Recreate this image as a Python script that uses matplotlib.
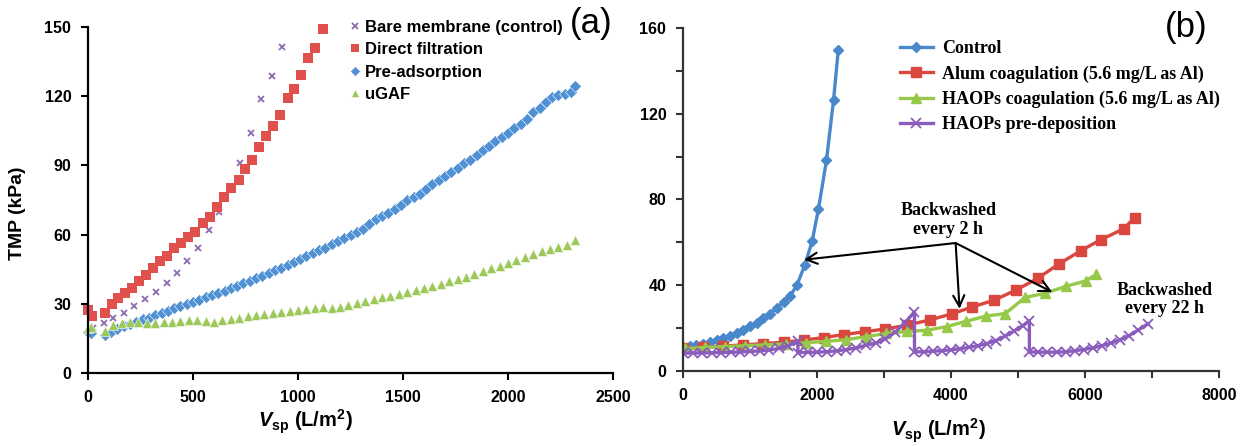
import numpy as np
import matplotlib
matplotlib.use('Agg')
from matplotlib import pyplot as plt
from matplotlib.ticker import MultipleLocator, FuncFormatter

plt.rcParams['font.family'] = ['Liberation Sans', 'DejaVu Sans']
plt.rcParams['mathtext.fontset'] = 'custom'
plt.rcParams['mathtext.it'] = 'Liberation Sans:bold:italic'
plt.rcParams['mathtext.rm'] = 'Liberation Sans:bold'
plt.rcParams['mathtext.bf'] = 'Liberation Sans:bold'

# ---------- panel (a) ----------
bare_x = [25, 78, 121, 173, 219, 271, 322, 375, 425, 473, 525, 576, 625, 675, 726, 775, 826, 877, 926]
bare_y = [19.5, 21.5, 23.7, 26.1, 29.0, 32.1, 35.0, 39.2, 43.5, 48.5, 54.0, 62.0, 69.7, 80.0, 91.2, 103.9, 118.6, 128.7, 141.4]

direct_x = [1, 17, 81, 113, 145, 176, 208, 243, 276, 311, 343, 375, 410, 441, 478, 510, 549, 581, 613,
            647, 680, 717, 749, 779, 816, 846, 883, 914, 951, 981, 1013, 1048, 1083, 1118]
direct_y = [27.3, 24.7, 25.9, 29.9, 32.4, 34.8, 36.7, 39.9, 42.5, 45.4, 48.7, 50.7, 54.0, 56.2, 59.1, 61.3, 65.2, 67.8, 71.8,
            76.5, 80.0, 83.5, 88.3, 92.3, 98.1, 102.9, 107.1, 111.8, 119.3, 123.0, 129.3, 136.4, 140.7, 149.0]

preads_x = [0, 15, 81, 110, 140, 170, 200, 230, 260, 290, 320, 350, 380, 410, 440, 470, 500, 530, 560, 590,
            620, 650, 680, 710, 740, 770, 800, 830, 860, 890, 920, 950, 980, 1010, 1040, 1070, 1100, 1130,
            1160, 1190, 1220, 1250, 1280, 1310, 1340, 1370, 1400, 1430, 1460, 1490, 1520, 1550, 1580, 1610,
            1640, 1670, 1700, 1730, 1760, 1790, 1820, 1850, 1880, 1910, 1940, 1970, 2000, 2030, 2060, 2090,
            2120, 2150, 2180, 2210, 2240, 2270, 2300, 2318]
preads_y = [17.8, 17.3, 16.3, 17.8, 19.0, 20.2, 21.3, 22.3, 23.2, 24.0, 25.2, 26.1, 27.0, 28.0, 28.9, 29.8,
            30.8, 31.8, 32.8, 33.7, 34.7, 35.6, 36.7, 37.8, 38.9, 39.9, 41.0, 42.1, 43.3, 44.5, 45.7, 47.0,
            48.3, 49.5, 50.8, 52.0, 53.2, 54.4, 55.8, 57.2, 58.5, 59.8, 61.2, 62.6, 64.5, 66.7, 68.0, 69.3,
            71.0, 73.0, 74.8, 76.2, 77.7, 79.7, 81.8, 83.6, 85.2, 87.0, 89.0, 91.2, 92.5, 94.5, 96.5, 98.6,
            100.6, 102.3, 104.2, 106.0, 107.8, 110.2, 113.0, 115.0, 117.5, 119.5, 120.5, 121.0, 122.0, 124.3]

ugaf_x = [0, 12, 81, 120, 160, 200, 240, 280, 320, 360, 400, 440, 480, 520, 560, 600, 640, 680, 720, 760,
          800, 840, 880, 920, 960, 1000, 1040, 1080, 1120, 1160, 1200, 1240, 1280, 1320, 1360, 1400, 1440,
          1480, 1520, 1560, 1600, 1640, 1680, 1720, 1760, 1800, 1840, 1880, 1920, 1960, 2000, 2040, 2080,
          2120, 2160, 2200, 2240, 2280, 2318]
ugaf_y = [19.5, 19.8, 18.3, 21.0, 21.8, 22.0, 22.0, 21.8, 21.8, 22.0, 22.2, 22.5, 22.8, 23.0, 22.5, 22.3,
          22.8, 23.4, 24.0, 24.6, 25.1, 25.5, 26.0, 26.5, 27.0, 27.4, 27.8, 28.3, 28.7, 28.0, 28.6, 29.5,
          30.5, 31.3, 32.0, 32.8, 33.5, 34.2, 35.2, 36.0, 37.0, 37.8, 38.8, 39.8, 40.8, 41.8, 43.0, 44.2,
          45.4, 46.6, 47.8, 49.0, 50.2, 51.5, 52.8, 53.8, 54.6, 55.6, 57.5]

# ---------- panel (b) ----------
control_x = [0, 100, 200, 300, 400, 500, 600, 700, 800, 900, 1000, 1100, 1200, 1300, 1400, 1500, 1600, 1700,
             1820, 1928, 2022, 2141, 2247, 2318]
control_y = [11.2, 11.6, 12.2, 12.8, 13.6, 14.5, 15.3, 16.4, 17.7, 19.2, 20.8, 22.5, 24.5, 26.8, 29.3, 32.0,
             35.0, 40.0, 49.6, 60.6, 75.6, 98.2, 126.4, 149.9]

alum_x = [0, 300, 600, 900, 1200, 1500, 1800, 2100, 2400, 2710, 3016, 3350, 3680, 4010, 4317, 4642, 4967,
          5293, 5618, 5943, 6239, 6576, 6742]
alum_y = [10.5, 11.0, 11.6, 12.2, 12.8, 13.4, 14.4, 15.6, 17.0, 18.3, 19.6, 21.4, 23.8, 26.6, 29.9, 33.0,
          37.7, 43.2, 50.1, 56.2, 61.3, 66.3, 71.6]

haops_coag_x = [30, 330, 630, 930, 1230, 1530, 1830, 2130, 2430, 2730, 3030, 3349, 3642, 3934, 4226, 4519,
                4811, 5104, 5396, 5715, 6008, 6167]
haops_coag_y = [10.5, 11.0, 11.4, 11.8, 12.2, 12.6, 13.2, 13.8, 14.6, 16.0, 17.5, 18.5, 19.0, 20.7, 23.2,
                25.6, 26.8, 34.3, 36.2, 39.5, 42.0, 45.1]

haops_dep_x = [0, 143, 286, 429, 572, 715, 858, 1001, 1144, 1287, 1430, 1573, 1715,
               1715, 1860, 2005, 2150, 2295, 2440, 2585, 2730, 2875, 3020, 3165, 3310, 3455,
               3455, 3590, 3725, 3860, 3995, 4130, 4265, 4400, 4535, 4670, 4805, 4940, 5075, 5170,
               5170, 5305, 5440, 5575, 5710, 5845, 5980, 6115, 6250, 6385, 6520, 6655, 6790, 6940]
haops_dep_y = [8.4, 8.4, 8.4, 8.5, 8.6, 8.7, 8.9, 9.1, 9.4, 9.8, 10.5, 11.8, 14.0,
               8.6, 8.7, 8.8, 9.0, 9.4, 10.0, 10.8, 12.0, 13.0, 15.0, 18.0, 22.5, 27.5,
               8.9, 9.0, 9.2, 9.5, 9.9, 10.4, 11.0, 11.8, 12.8, 14.2, 16.2, 18.6, 21.2, 23.5,
               8.9, 8.8, 8.8, 8.8, 8.9, 9.5, 10.0, 10.8, 11.8, 13.0, 14.5, 16.5, 19.0, 22.0]

W, H = 1245, 446
fig = plt.figure(figsize=(W / 100, H / 100), dpi=100)

# ---------------- (a) ----------------
ax1 = fig.add_axes([88 / W, (H - 373) / H, 525 / W, 346 / H])
ax1.plot(bare_x, bare_y, 'x', color='#8C6BB1', ms=5, mew=1.3, label='Bare membrane (control)', clip_on=False)
ax1.plot(direct_x, direct_y, 's', color='#E0514D', ms=7, mew=0, label='Direct filtration', clip_on=False)
ax1.plot(preads_x, preads_y, 'D', color='#4F91D4', ms=6, mec='white', mew=0.4, label='Pre-adsorption', clip_on=False)
ax1.plot(ugaf_x, ugaf_y, '^', color='#9DC85A', ms=7.5, mec='white', mew=0.4, label='uGAF', clip_on=False)
ax1.set_xlim(0, 2500)
ax1.set_ylim(0, 150)
ax1.xaxis.set_major_locator(MultipleLocator(500))
ax1.yaxis.set_major_locator(MultipleLocator(30))

# ---------------- (b) ----------------
ax2 = fig.add_axes([683 / W, (H - 371) / H, 536 / W, 343 / H])
ax2.plot(control_x, control_y, '-D', color='#4A88CC', lw=2.4, ms=5.5, label='Control')
ax2.plot(alum_x, alum_y, '-s', color='#D9473F', lw=2.4, ms=7, label='Alum coagulation (5.6 mg/L as Al)')
ax2.plot(haops_coag_x, haops_coag_y, '-^', color='#96C84A', lw=2.4, ms=7.5, label='HAOPs coagulation (5.6 mg/L as Al)')
ax2.plot(haops_dep_x, haops_dep_y, '-x', color='#8A5CBB', lw=2.4, ms=7, mew=1.3, label='HAOPs pre-deposition')
ax2.set_xlim(0, 8000)
ax2.set_ylim(0, 160)
ax2.xaxis.set_major_locator(MultipleLocator(1000))
ax2.yaxis.set_major_locator(MultipleLocator(20))
ax2.xaxis.set_major_formatter(FuncFormatter(lambda v, p: f'{v:.0f}' if round(v) % 2000 == 0 else ''))
ax2.yaxis.set_major_formatter(FuncFormatter(lambda v, p: f'{v:.0f}' if round(v) % 40 == 0 else ''))

for ax, col in [(ax1, 'black'), (ax2, '#333333')]:
    for s in ['top', 'right']:
        ax.spines[s].set_visible(False)
    for s in ['left', 'bottom']:
        ax.spines[s].set_linewidth(1.6)
        ax.spines[s].set_color(col)
    ax.tick_params(direction='out', length=5, width=1.5, color=col, labelsize=11.5, pad=7)
    for lab in ax.get_xticklabels() + ax.get_yticklabels():
        lab.set_fontweight('bold')

# annotations in (b)
src = (4069, 59.7)
for tip in [(1804, 51.9), (4128, 29.0), (5512, 36.8)]:
    ax2.annotate('', xy=tip, xytext=src,
                 arrowprops=dict(arrowstyle='->', color='black', lw=1.5, mutation_scale=20,
                                 shrinkA=0, shrinkB=0))
ax2.text(3962, 70.5, 'Backwashed\nevery 2 h', ha='center', va='center', fontsize=13,
         family='Liberation Serif', fontweight='bold', linespacing=1.1)
ax2.text(7185, 33.2, 'Backwashed\nevery 22 h', ha='center', va='center', fontsize=13,
         family='Liberation Serif', fontweight='bold', linespacing=1.1)

# legends
leg1 = ax1.legend(loc='upper left', bbox_to_anchor=(343 / W, 1 - 13 / H), bbox_transform=fig.transFigure,
                  frameon=False, handlelength=0.6, handletextpad=0.3, labelspacing=0.45, borderaxespad=0,
                  markerscale=0.8, prop={'family': 'Liberation Sans', 'weight': 'bold', 'size': 12})
leg2 = ax2.legend(loc='upper left', bbox_to_anchor=(893 / W, 1 - 33 / H), bbox_transform=fig.transFigure,
                  frameon=False, handlelength=1.8, handletextpad=0.5, labelspacing=0.45, borderaxespad=0,
                  prop={'family': 'Liberation Serif', 'weight': 'bold', 'size': 13})

fig.text(591 / W, 1 - 24 / H, '(a)', fontsize=25, ha='center', va='center')
fig.text(1186 / W, 1 - 28 / H, '(b)', fontsize=25, ha='center', va='center')

fig.text(18 / W, 1 - 213 / H, 'TMP (kPa)', rotation=90, fontsize=14, fontweight='bold', ha='center', va='center')
fig.text(305 / W, 1 - 422 / H, r'$V_{\rm sp}$ (L/m$^{\rm 2}$)', fontsize=14.5, fontweight='bold', ha='center', va='center')
fig.text(938 / W, 1 - 431 / H, r'$V_{\rm sp}$ (L/m$^{\rm 2}$)', fontsize=14.5, fontweight='bold', ha='center', va='center')

fig.savefig('out.png', dpi=100)
